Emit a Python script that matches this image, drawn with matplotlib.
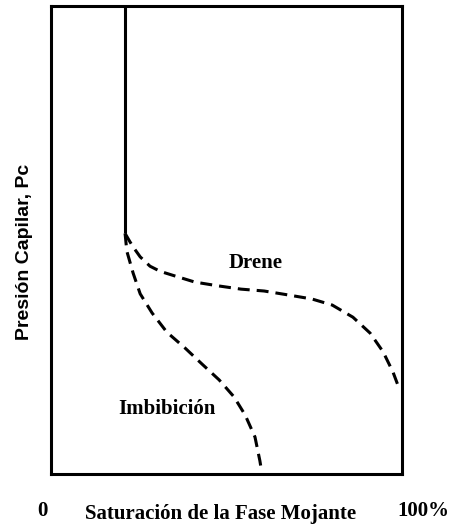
import numpy as np
import matplotlib
matplotlib.use('Agg')
import matplotlib.pyplot as plt

# solid part: saturacion irreducible, from top of box down to start of curves
sw_solid = [0.211, 0.211]
pc_solid = [1.0, 0.514]

# drene curve
sw_drene = [0.211, 0.225, 0.234, 0.254, 0.282, 0.311, 0.345, 0.410, 0.476,
            0.541, 0.607, 0.672, 0.743, 0.801, 0.860, 0.909, 0.946, 0.974, 0.991]
pc_drene = [0.514, 0.496, 0.485, 0.464, 0.444, 0.433, 0.425, 0.410, 0.402,
            0.395, 0.391, 0.383, 0.374, 0.361, 0.335, 0.301, 0.261, 0.218, 0.184]

# imbibicion curve
sw_imb = [0.211, 0.216, 0.234, 0.254, 0.288, 0.330, 0.382, 0.430, 0.479,
          0.521, 0.553, 0.581, 0.595, 0.600]
pc_imb = [0.514, 0.476, 0.429, 0.385, 0.344, 0.303, 0.269, 0.235, 0.201,
          0.165, 0.126, 0.079, 0.028, 0.005]

fig = plt.figure(figsize=(4.53, 5.27), dpi=100)
ax = fig.add_axes([0.1126, 0.1006, 0.775, 0.888])

dash = (0, (3.9, 2.3))
ax.plot(sw_solid, pc_solid, color='black', lw=2.2, solid_capstyle='butt')
ax.plot(sw_drene, pc_drene, color='black', lw=2.2, linestyle=dash)
ax.plot(sw_imb, pc_imb, color='black', lw=2.2, linestyle=dash)

ax.set_xlim(0, 1)
ax.set_ylim(0, 1)
ax.set_xticks([])
ax.set_yticks([])
for s in ax.spines.values():
    s.set_linewidth(2.2)

serif = 'Liberation Serif'
fs = 15
ax.text(0.583, 0.451, 'Drene', fontfamily=serif, fontweight='bold', fontsize=fs,
        ha='center', va='center')
ax.text(0.33, 0.138, 'Imbibición', fontfamily=serif, fontweight='bold', fontsize=fs,
        ha='center', va='center')

fig.text(0.055, 0.523, 'Presión Capilar, Pc', fontfamily='Liberation Sans',
         fontweight='bold', fontsize=14, rotation=90, ha='center', va='center')

fig.text(0.094, 0.030, '0', fontfamily=serif, fontweight='bold', fontsize=fs,
         ha='center', va='center')
fig.text(0.487, 0.024, 'Saturación de la Fase Mojante', fontfamily=serif,
         fontweight='bold', fontsize=fs, ha='center', va='center')
fig.text(0.934, 0.030, '100%', fontfamily=serif, fontweight='bold', fontsize=fs,
         ha='center', va='center')

fig.savefig('out.png', dpi=100)
